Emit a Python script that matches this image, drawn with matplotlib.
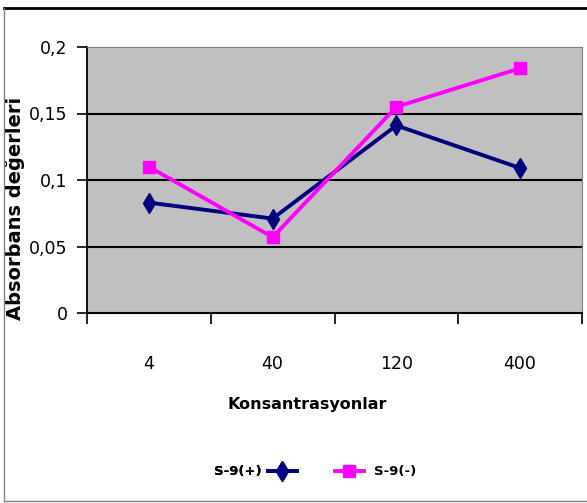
import matplotlib.pyplot as plt
from matplotlib.lines import Line2D

categories = ["4", "40", "120", "400"]
s9_plus = [0.083, 0.071, 0.141, 0.109]
s9_minus = [0.110, 0.057, 0.155, 0.184]
y_ticks = [0, 0.05, 0.1, 0.15, 0.2]
y_tick_labels = ["0", "0,05", "0,1", "0,15", "0,2"]

fig = plt.figure(figsize=(5.87, 5.03), dpi=100)
W, H = 587, 503
ax = fig.add_axes([87 / W, 1 - 313 / H, (582 - 87) / W, (313 - 47) / H])
ax.set_facecolor("#c0c0c0")

x = list(range(len(categories)))
ax.plot(x, s9_plus, color="#000080", lw=2.8, marker="d", ms=10, label="S-9(+)", zorder=3)
ax.plot(x, s9_minus, color="#ff00ff", lw=2.8, marker="s", ms=9, label="S-9(-)", zorder=3)

ax.set_xlim(-0.5, len(categories) - 0.5)
ax.set_ylim(0, 0.2)

# category labels centred, tick marks between categories
ax.set_xticks(x)
ax.set_xticklabels(categories, fontsize=12.5)
ax.tick_params(axis="x", which="major", length=0, pad=30)
ax.set_xticks([i - 0.5 for i in range(len(categories) + 1)], minor=True)
ax.tick_params(axis="x", which="minor", length=8, width=1.2, direction="out")

ax.set_yticks(y_ticks)
ax.set_yticklabels(y_tick_labels, fontsize=12.5)
ax.tick_params(axis="y", length=7, width=1.2, direction="out", pad=7)

for yv in y_ticks[1:-1]:
    ax.axhline(yv, color="black", lw=1.5, zorder=1)

ax.spines["left"].set_color("black")
ax.spines["bottom"].set_color("black")
ax.spines["left"].set_linewidth(1.3)
ax.spines["bottom"].set_linewidth(1.5)
ax.spines["top"].set_color("#808080")
ax.spines["right"].set_color("#808080")

ax.set_xlabel("Konsantrasyonlar", fontsize=11.5, fontweight="bold")
ax.xaxis.set_label_coords((307 - 87) / 495, (313 - 397) / 266)
ax.set_ylabel("Absorbans değerleri", fontsize=14, fontweight="bold")
ax.yaxis.set_label_coords((25 - 87) / 495, (313 - 208) / 266)

# legend: first entry has text before the marker, second after
h1, h2 = ax.get_lines()[:2]
leg1 = fig.legend([h1], ["S-9(+)"], loc="center", bbox_to_anchor=(0.435, 0.062),
                  markerfirst=False, frameon=False, handlelength=2.2, handletextpad=0.5,
                  prop={"size": 9.5, "weight": "bold"})
fig.legend([h2], ["S-9(-)"], loc="center", bbox_to_anchor=(0.64, 0.062),
           markerfirst=True, frameon=False, handlelength=2.2, handletextpad=0.8,
           prop={"size": 9.5, "weight": "bold"})
fig.add_artist(leg1)

# outer chart frame
fig.add_artist(Line2D([4 / W, 1], [1 - 8 / H, 1 - 8 / H], color="black", lw=2, transform=fig.transFigure))
fig.add_artist(Line2D([4 / W, 4 / W], [1 - 8 / H, 1 - 501 / H], color="#808080", lw=1, transform=fig.transFigure))
fig.add_artist(Line2D([4 / W, 1], [1 - 501 / H, 1 - 501 / H], color="#808080", lw=1, transform=fig.transFigure))

fig.savefig("out.png", dpi=100)
